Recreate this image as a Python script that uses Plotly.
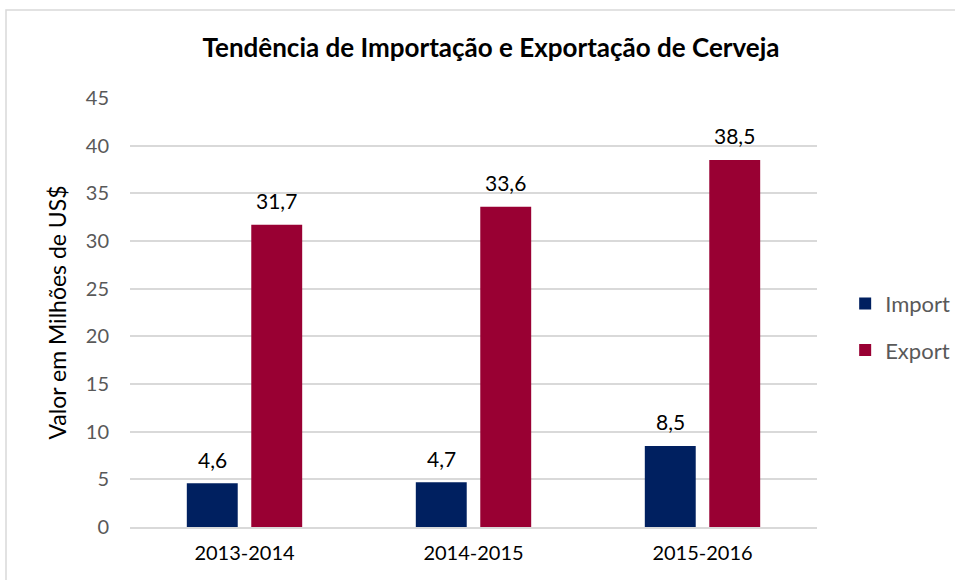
import plotly.graph_objects as go

periods = ["2013-2014", "2014-2015", "2015-2016"]
import_vals = [4.6, 4.7, 8.5]
export_vals = [31.7, 33.6, 38.5]
y_ticks = [0, 5, 10, 15, 20, 25, 30, 35, 40, 45]

FONT = "Lato, 'Open Sans', sans-serif"
BAR_GAP = 0.437
GROUP_GAP = 0.21


def fmt(v):
    return f"{v:.1f}".replace(".", ",")


fig = go.Figure()
series = [("Import", import_vals, "#002060"), ("Export", export_vals, "#990033")]
for name, vals, color in series:
    fig.add_trace(go.Bar(
        x=periods, y=vals, name=name, marker_color=color,
        marker_line_width=0, legendgroup=name,
    ))

# value labels above each bar, offset within the category group
slot = (1 - BAR_GAP) / 2
for i, (name, vals, color) in enumerate(series):
    offset = (i - 0.5) * slot
    for j, v in enumerate(vals):
        fig.add_annotation(
            x=j + offset, y=v, xref="x", yref="y",
            text=fmt(v), showarrow=False, yanchor="middle", yshift=24,
            font=dict(size=21, color="#000000", family=FONT),
        )

fig.update_layout(
    width=955, height=580,
    margin=dict(l=130, r=138, t=98, b=53, autoexpand=False),
    paper_bgcolor="white", plot_bgcolor="white",
    barmode="group", bargap=BAR_GAP, bargroupgap=GROUP_GAP,
    title=dict(text="<b>Tendência de Importação e Exportação de Cerveja</b>",
               xref="paper", x=0.5255, xanchor="center", y=0.918, yanchor="middle",
               font=dict(size=26, color="#000000", family=FONT)),
    legend=dict(x=1.041, y=0.466, xanchor="left", yanchor="middle",
                font=dict(size=22, color="#595959", family=FONT),
                tracegroupgap=15, itemwidth=30),
    xaxis=dict(tickfont=dict(size=20, color="#000000", family=FONT),
               showline=True, linecolor="#d9d9d9", linewidth=1.5,
               ticks="", ticklabelstandoff=7),
    yaxis=dict(range=[0, 45], tickvals=y_ticks,
               tickfont=dict(size=20, color="#595959", family=FONT),
               showgrid=True, gridcolor="#d9d9d9", gridwidth=1.5,
               zeroline=False, ticks="", ticklabelstandoff=20,
               title=dict(text="Valor em Milhões de US$",
                          font=dict(size=23, color="#000000", family=FONT),
                          standoff=12)),
    showlegend=True,
)

# outer chart frame
fig.add_shape(type="rect", xref="paper", yref="paper",
              x0=(6 - 130) / 687, x1=1.3, y0=-0.3, y1=(527 - 10) / 429,
              line=dict(color="#d9d9d9", width=1.5), fillcolor="rgba(0,0,0,0)",
              layer="below")

fig.write_html("out.html")
